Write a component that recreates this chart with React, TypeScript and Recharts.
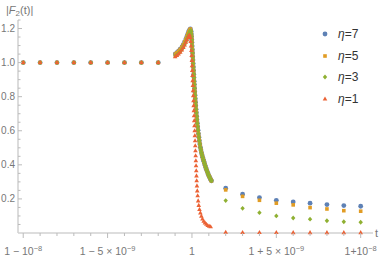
import { Legend, Scatter, ScatterChart, XAxis, YAxis } from "recharts";

// t is read as an offset from 1, in units of 10^-9
const plateauT = [-10, -9, -8, -7, -6, -5, -4, -3, -2];
const plateauF = [1, 1, 1, 1, 1, 1, 1, 1, 1];

const tailT = [2, 3, 4, 5, 6, 7, 8, 9, 10];
const eta7Tail = [0.263, 0.228, 0.208, 0.192, 0.182, 0.175, 0.167, 0.161, 0.157];
const eta5Tail = [0.253, 0.215, 0.192, 0.175, 0.165, 0.149, 0.141, 0.131, 0.128];
const eta3Tail = [0.19, 0.145, 0.119, 0.1, 0.088, 0.081, 0.072, 0.066, 0.063];
const eta1Tail = [0.004, 0.003, 0.003, 0.003, 0.002, 0.002, 0.002, 0.002, 0.002];

// rising shoulder before the peak (eta = 3, 5, 7)
const riseT = [-0.984, -0.889, -0.788, -0.694, -0.593, -0.51, -0.433, -0.362, -0.296, -0.243, -0.196, -0.142, -0.095];
const eta7Rise = [1.051, 1.059, 1.068, 1.079, 1.092, 1.106, 1.122, 1.138, 1.155, 1.169, 1.181, 1.191, 1.198];
const eta5Rise = [1.05, 1.058, 1.067, 1.078, 1.091, 1.105, 1.121, 1.137, 1.154, 1.168, 1.18, 1.19, 1.197];
const eta3Rise = [1.039, 1.046, 1.055, 1.065, 1.078, 1.092, 1.107, 1.123, 1.139, 1.153, 1.166, 1.178, 1.189];

// the drop after the peak, nearly identical for eta = 3, 5, 7
const dropT = [
  -0.053, -0.039, -0.024, -0.012, 0.0, 0.012, 0.024, 0.036, 0.047, 0.059, 0.071, 0.083, 0.095, 0.107, 0.119, 0.13,
  0.142, 0.154, 0.166, 0.181, 0.196, 0.21, 0.225, 0.243, 0.261, 0.279, 0.296, 0.317, 0.338, 0.362, 0.385, 0.412,
  0.439, 0.468, 0.498, 0.531, 0.563, 0.599, 0.634, 0.67, 0.705, 0.741, 0.777, 0.815, 0.854, 0.892, 0.931, 0.969,
  1.008, 1.046, 1.085, 1.12, 1.156,
];
const dropF = [
  1.184, 1.168, 1.153, 1.135, 1.118, 1.097, 1.076, 1.056, 1.035, 1.015, 0.994, 0.974, 0.953, 0.932, 0.912, 0.891,
  0.871, 0.85, 0.829, 0.809, 0.788, 0.768, 0.747, 0.726, 0.706, 0.685, 0.665, 0.644, 0.624, 0.603, 0.582, 0.562,
  0.541, 0.522, 0.503, 0.487, 0.471, 0.458, 0.444, 0.432, 0.421, 0.409, 0.397, 0.385, 0.374, 0.364, 0.353, 0.344,
  0.335, 0.327, 0.319, 0.312, 0.306,
];

// eta = 1 around t = 1
const eta1CurveT = [
  -0.996, -0.895, -0.794, -0.694, -0.599, -0.51, -0.433, -0.362, -0.296, -0.237, -0.184, -0.136, -0.101, -0.077,
  -0.053, -0.036, -0.018, -0.006, 0.006, 0.018, 0.03, 0.041, 0.053, 0.065, 0.077, 0.089, 0.101, 0.113, 0.124, 0.136,
  0.148, 0.16, 0.172, 0.184, 0.196, 0.207, 0.219, 0.231, 0.243, 0.255, 0.267, 0.279, 0.296, 0.314, 0.338, 0.368,
  0.403, 0.445, 0.498, 0.557, 0.622, 0.694, 0.771, 0.854, 0.937, 1.025, 1.108,
];
const eta1CurveF = [
  1.035, 1.042, 1.051, 1.061, 1.074, 1.088, 1.103, 1.119, 1.134, 1.148, 1.158, 1.162, 1.147, 1.124, 1.097, 1.071,
  1.041, 1.012, 0.982, 0.953, 0.924, 0.894, 0.865, 0.835, 0.806, 0.776, 0.747, 0.718, 0.688, 0.659, 0.629, 0.6,
  0.571, 0.541, 0.512, 0.482, 0.453, 0.424, 0.394, 0.365, 0.335, 0.306, 0.276, 0.247, 0.218, 0.188, 0.162, 0.138,
  0.118, 0.099, 0.082, 0.069, 0.059, 0.051, 0.044, 0.039, 0.036,
];

const xTicks = [-10, -9, -8, -7, -6, -5, -4, -3, -2, -1, 0, 1, 2, 3, 4, 5, 6, 7, 8, 9, 10];
const xMajor = [-10, -5, 0, 5, 10];
const xMajorBase = ["1 \u2212 10", "1 \u2212 5 \u00d7 10", "1", "1 + 5 \u00d7 10", "1+10"];
const xMajorExp = ["\u22128", "\u22129", "", "\u22129", "\u22128"];

const yTicks = [
  0.05, 0.1, 0.15, 0.2, 0.25, 0.3, 0.35, 0.4, 0.45, 0.5, 0.55, 0.6, 0.65, 0.7, 0.75, 0.8, 0.85, 0.9, 0.95, 1.0, 1.05,
  1.1, 1.15, 1.2, 1.25,
];

const FONT = '"Liberation Sans", Arial, sans-serif';
const BLUE = "#5E81B5";
const ORANGE = "#E19C24";
const GREEN = "#8FB032";
const RED = "#EB6235";

const pts = (t: number[], f: number[]) => t.map((v, i) => ({ t: v, f: f[i] }));

const eta7Data = [...pts(plateauT, plateauF), ...pts(riseT, eta7Rise), ...pts(dropT, dropF), ...pts(tailT, eta7Tail)];
const eta5Data = [...pts(plateauT, plateauF), ...pts(riseT, eta5Rise), ...pts(dropT, dropF), ...pts(tailT, eta5Tail)];
const eta3Data = [...pts(plateauT, plateauF), ...pts(riseT, eta3Rise), ...pts(dropT, dropF), ...pts(tailT, eta3Tail)];
const eta1Data = [...pts(plateauT, plateauF), ...pts(eta1CurveT, eta1CurveF), ...pts(tailT, eta1Tail)];

function Marker({ kind, cx, cy }: { kind: string; cx: number; cy: number }) {
  if (kind === "circle") return <circle cx={cx} cy={cy} r={2.4} fill={BLUE} />;
  if (kind === "square") return <rect x={cx - 1.8} y={cy - 1.8} width={3.6} height={3.6} fill={ORANGE} />;
  if (kind === "diamond")
    return <polygon points={`${cx},${cy - 2.4} ${cx + 2.2},${cy} ${cx},${cy + 2.4} ${cx - 2.2},${cy}`} fill={GREEN} />;
  return <polygon points={`${cx},${cy - 2.6} ${cx + 2.3},${cy + 1.5} ${cx - 2.3},${cy + 1.5}`} fill={RED} />;
}

const legendItems = [
  { eta: "7", kind: "circle" },
  { eta: "5", kind: "square" },
  { eta: "3", kind: "diamond" },
  { eta: "1", kind: "triangle" },
];

function LegendBox() {
  return (
    <div style={{ fontFamily: FONT, fontSize: 12, color: "#333" }}>
      {legendItems.map((it) => (
        <div key={it.eta} style={{ display: "flex", alignItems: "center", height: 21.5 }}>
          <svg width={10} height={10}>
            <Marker kind={it.kind} cx={5} cy={5} />
          </svg>
          <span style={{ marginLeft: 8 }}>
            <i>η</i>={it.eta}
          </span>
        </div>
      ))}
    </div>
  );
}

function XTick(props: any) {
  const { x, y, payload } = props;
  const idx = xMajor.indexOf(payload.value);
  const major = idx >= 0;
  return (
    <g>
      <line x1={x} x2={x} y1={y} y2={y + (major ? 5 : 3)} stroke="#bbb" />
      {major && (
        <text x={x} y={y + 22} textAnchor="middle" fontSize={10.5} fill="#777" fontFamily={FONT}>
          <tspan>{xMajorBase[idx]}</tspan>
          {xMajorExp[idx] && (
            <tspan dy={-4} fontSize={7.5}>
              {xMajorExp[idx]}
            </tspan>
          )}
        </text>
      )}
    </g>
  );
}

function YTick(props: any) {
  const { x, y, payload } = props;
  const v = payload.value;
  const major = Math.abs(v * 5 - Math.round(v * 5)) < 1e-6;
  return (
    <g>
      <line x1={x} x2={x + (major ? 4 : 2.5)} y1={y} y2={y} stroke="#bbb" />
      {major && (
        <text x={x - 3} y={y} dy="0.35em" textAnchor="end" fontSize={10} fill="#777" fontFamily={FONT}>
          {v.toFixed(1)}
        </text>
      )}
    </g>
  );
}

const dot = (kind: string) => (p: any) => <Marker kind={kind} cx={p.cx} cy={p.cy} />;

export default function App() {
  return (
    <div style={{ position: "absolute", left: 0, top: 0, width: 382, height: 261, background: "#fff" }}>
      <ScatterChart width={382} height={261} margin={{ top: 20, right: 9, bottom: 0, left: 0 }}>
        <XAxis
          type="number"
          dataKey="t"
          domain={[-10.31, 10.73]}
          ticks={xTicks}
          interval={0}
          height={28}
          tickSize={0}
          tickMargin={0}
          tickLine={false}
          axisLine={{ stroke: "#bbb" }}
          tick={<XTick />}
        />
        <YAxis
          type="number"
          dataKey="f"
          domain={[0, 1.25]}
          ticks={yTicks}
          interval={0}
          width={18}
          tickSize={0}
          tickMargin={0}
          tickLine={false}
          axisLine={{ stroke: "#d0d0d0", strokeWidth: 1.5 }}
          tick={<YTick />}
        />
        <Legend
          align="center"
          verticalAlign="middle"
          layout="horizontal"
          content={() => <LegendBox />}
          wrapperStyle={{ position: "absolute", left: 320, top: 23.5, width: 60, height: 90 }}
        />
        <Scatter name="η=7" data={eta7Data} fill={BLUE} shape={dot("circle")} isAnimationActive={false} />
        <Scatter name="η=5" data={eta5Data} fill={ORANGE} shape={dot("square")} isAnimationActive={false} />
        <Scatter name="η=3" data={eta3Data} fill={GREEN} shape={dot("diamond")} isAnimationActive={false} />
        <Scatter name="η=1" data={eta1Data} fill={RED} shape={dot("triangle")} isAnimationActive={false} />
      </ScatterChart>
      <svg
        width={382}
        height={261}
        style={{ position: "absolute", left: 0, top: 0, pointerEvents: "none" }}
        fontFamily={FONT}
      >
        <text x={6} y={14} fontSize={11} fill="#777">
          <tspan>|</tspan>
          <tspan fontStyle="italic">F</tspan>
          <tspan fontSize={8} dy={2}>
            2
          </tspan>
          <tspan dy={-2}>(t)|</tspan>
        </text>
        <text x={375} y={237} fontSize={11} fill="#777">
          t
        </text>
      </svg>
    </div>
  );
}
